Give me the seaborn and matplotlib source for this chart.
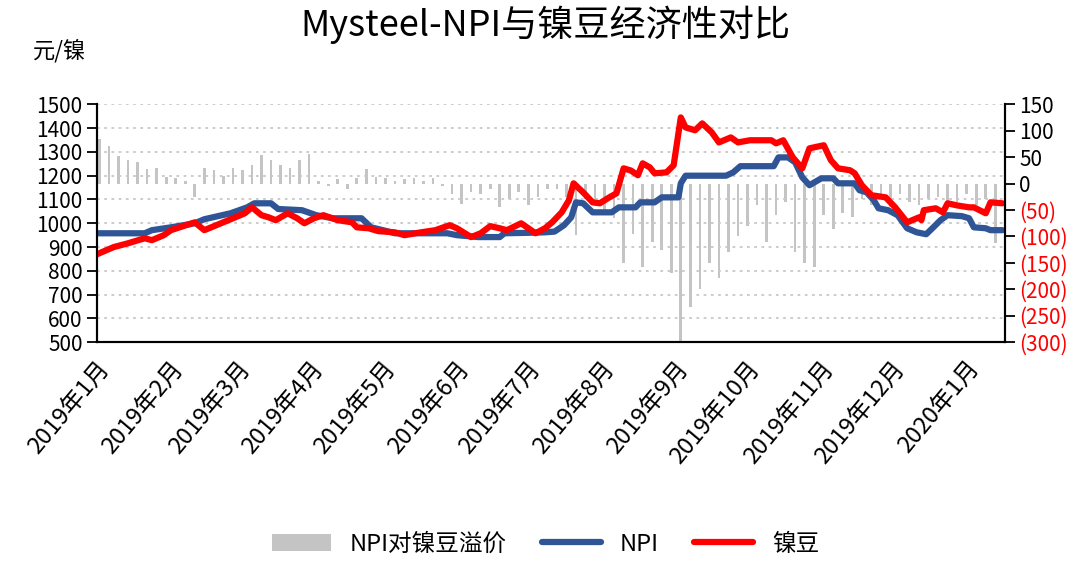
import numpy as np
import pandas as pd
import seaborn as sns
import matplotlib.pyplot as plt
import matplotlib.dates as mdates
from matplotlib.patches import Patch
from matplotlib.lines import Line2D

sns.set_style("white")
plt.rcParams['font.family'] = ['Noto Sans CJK SC', 'DejaVu Sans']
plt.rcParams['axes.unicode_minus'] = False
plt.rcParams['text.color'] = 'black'
plt.rcParams['xtick.color'] = 'black'
plt.rcParams['ytick.color'] = 'black'

# 镍豆 price (元/镍)
nickel_dates = ['2019-01-01', '2019-01-08', '2019-01-14', '2019-01-21', '2019-01-24', '2019-01-29',
                '2019-02-01', '2019-02-11', '2019-02-15', '2019-02-22', '2019-02-28', '2019-03-04',
                '2019-03-07', '2019-03-11', '2019-03-14', '2019-03-17', '2019-03-22', '2019-03-26',
                '2019-03-29', '2019-04-02', '2019-04-06', '2019-04-12', '2019-04-18', '2019-04-20',
                '2019-04-25', '2019-04-29', '2019-05-06', '2019-05-10', '2019-05-17', '2019-05-23',
                '2019-05-29', '2019-06-01', '2019-06-07', '2019-06-11', '2019-06-15', '2019-06-19',
                '2019-06-22', '2019-06-28', '2019-07-04', '2019-07-08', '2019-07-11', '2019-07-15',
                '2019-07-18', '2019-07-20', '2019-07-24', '2019-07-28', '2019-07-31', '2019-08-04',
                '2019-08-07', '2019-08-10', '2019-08-13', '2019-08-16', '2019-08-18', '2019-08-21',
                '2019-08-23', '2019-08-28', '2019-08-31', '2019-09-03', '2019-09-05', '2019-09-09',
                '2019-09-12', '2019-09-16', '2019-09-19', '2019-09-24', '2019-09-27', '2019-10-02',
                '2019-10-11', '2019-10-13', '2019-10-16', '2019-10-20', '2019-10-24', '2019-10-27',
                '2019-11-02', '2019-11-05', '2019-11-08', '2019-11-13', '2019-11-15', '2019-11-18',
                '2019-11-22', '2019-11-28', '2019-12-02', '2019-12-07', '2019-12-12', '2019-12-13',
                '2019-12-14', '2019-12-19', '2019-12-22', '2019-12-24', '2019-12-28', '2020-01-02',
                '2020-01-04', '2020-01-09', '2020-01-11', '2020-01-16']
nickel_vals = [870, 900, 916, 937, 929, 950,
               971, 1004, 971, 1000, 1025, 1042,
               1067, 1034, 1025, 1013, 1042, 1021,
               1000, 1021, 1034, 1013, 1004, 983,
               979, 967, 962, 950, 962, 971,
               992, 979, 942, 958, 988, 979,
               971, 1000, 958, 979, 1004, 1046,
               1096, 1168, 1130, 1088, 1084, 1109,
               1126, 1231, 1222, 1202, 1252, 1235,
               1210, 1214, 1244, 1445, 1403, 1391,
               1420, 1382, 1340, 1361, 1340, 1349,
               1349, 1336, 1349, 1277, 1231, 1315,
               1328, 1265, 1231, 1223, 1210, 1160,
               1118, 1109, 1067, 1004, 1025, 1013,
               1055, 1063, 1046, 1084, 1075, 1067,
               1067, 1042, 1088, 1084]

# NPI price (元/镍)
npi_dates = ['2019-01-01', '2019-01-21', '2019-01-24', '2019-02-01', '2019-02-11', '2019-02-15',
             '2019-02-26', '2019-03-05', '2019-03-08', '2019-03-15', '2019-03-18', '2019-03-28',
             '2019-04-03', '2019-04-10', '2019-04-22', '2019-04-26', '2019-05-01', '2019-05-06',
             '2019-05-28', '2019-06-01', '2019-06-10', '2019-06-19', '2019-06-21', '2019-07-01',
             '2019-07-08', '2019-07-12', '2019-07-16', '2019-07-19', '2019-07-21', '2019-07-24',
             '2019-07-28', '2019-08-05', '2019-08-08', '2019-08-15', '2019-08-17', '2019-08-23',
             '2019-08-26', '2019-09-02', '2019-09-03', '2019-09-05', '2019-09-22', '2019-09-25',
             '2019-09-28', '2019-10-12', '2019-10-14', '2019-10-18', '2019-10-21', '2019-10-24',
             '2019-10-27', '2019-11-01', '2019-11-06', '2019-11-08', '2019-11-15', '2019-11-17',
             '2019-11-20', '2019-11-23', '2019-11-25', '2019-11-29', '2019-12-03', '2019-12-07',
             '2019-12-11', '2019-12-15', '2019-12-18', '2019-12-21', '2019-12-24', '2019-12-30',
             '2020-01-02', '2020-01-04', '2020-01-09', '2020-01-11', '2020-01-16']
npi_vals = [958, 958, 971, 983, 1000, 1017,
            1042, 1067, 1084, 1084, 1060, 1055,
            1034, 1021, 1021, 983, 971, 958,
            958, 950, 942, 942, 958, 960,
            962, 965, 992, 1025, 1088, 1084,
            1046, 1046, 1067, 1067, 1088, 1088,
            1109, 1109, 1168, 1200, 1200, 1214,
            1240, 1240, 1277, 1277, 1256, 1193,
            1160, 1189, 1189, 1168, 1168, 1139,
            1130, 1097, 1063, 1055, 1034, 979,
            962, 954, 983, 1013, 1034, 1030,
            1021, 983, 979, 971, 971]

# NPI对镍豆溢价 (right axis), one bar every 4 days from 2019-01-02
premium_start = '2019-01-02'
premium_vals = [85, 72, 52, 45, 40, 28, 30, 12,
                10, 5, -26, 30, 25, 15, 30, 25,
                35, 55, 45, 35, 30, 45, 57, 5,
                -5, 8, -10, 10, 28, 12, 10, 5,
                8, 10, 5, 10, -5, -20, -38, -15,
                -20, -10, -45, -30, -15, -40, -25, -10,
                -10, -25, -98, -30, -40, -55, -65, -150,
                -95, -158, -110, -125, -170, -300, -234, -200,
                -150, -178, -130, -100, -80, -40, -110, -60,
                -35, -130, -150, -158, -60, -85, -55, -64,
                -30, -40, -25, -45, -20, -35, -40, -30,
                -25, -45, -35, -20, -40, -30, -112, -140]

left_ticks = list(range(500, 1501, 100))
right_ticks = list(range(-300, 151, 50))

nickel = pd.DataFrame({'date': pd.to_datetime(nickel_dates), 'price': nickel_vals})
npi = pd.DataFrame({'date': pd.to_datetime(npi_dates), 'price': npi_vals})
premium = pd.DataFrame({'date': pd.date_range(premium_start, periods=len(premium_vals), freq='4D'),
                        'value': premium_vals})

blue = '#2F5597'
red = '#FF0000'
grey = '#C4C4C4'

fig = plt.figure(figsize=(10.91, 5.61), dpi=100)
ax = fig.add_axes([0.089, 0.390, 0.832, 0.424])
ax2 = ax.twinx()
ax2.set_zorder(ax.get_zorder() - 1)
ax.patch.set_visible(False)

ax2.bar(premium['date'], premium['value'], width=1.1, color=grey, linewidth=0)
ax2.set_ylim(-300, 150)
ax2.set_yticks(right_ticks)
ax2.set_yticklabels([f'({abs(v)})' if v < 0 else str(v) for v in right_ticks])
for lab, v in zip(ax2.get_yticklabels(), right_ticks):
    lab.set_color(red if v < 0 else 'black')

sns.lineplot(data=npi, x='date', y='price', ax=ax, color=blue, linewidth=4.5)
sns.lineplot(data=nickel, x='date', y='price', ax=ax, color=red, linewidth=4.5)

ax.set_ylim(500, 1500)
ax.set_yticks(left_ticks)
ax.set_xlim(pd.Timestamp('2019-01-01'), pd.Timestamp('2020-01-17'))
ax.xaxis.set_major_locator(mdates.MonthLocator())
ax.set_xticks(ax.get_xticks())
ax.set_xticklabels([f'{d.year}年{d.month}月' for d in
                    [mdates.num2date(t) for t in ax.get_xticks()]])
plt.setp(ax.get_xticklabels(), rotation=50, ha='right', rotation_mode='anchor')
ax.set_xlabel('')
ax.set_ylabel('')

ax.grid(axis='y', linestyle=(0, (1.5, 2.5)), color='#C8C8C8', linewidth=1.3)
ax.grid(axis='x', visible=False)

for a in (ax, ax2):
    a.spines['top'].set_visible(False)
    for s in ('left', 'bottom', 'right'):
        a.spines[s].set_color('black')
        a.spines[s].set_linewidth(1.5)
    a.tick_params(direction='out', length=7, width=1.3, labelsize=15)
ax.tick_params(axis='x', labelsize=17, pad=4)

fig.text(0.5, 0.955, 'Mysteel-NPI与镍豆经济性对比', ha='center', va='center', fontsize=26)
fig.text(0.03, 0.91, '元/镍', ha='left', va='center', fontsize=16)

handles = [Patch(facecolor=grey, edgecolor='none'),
           Line2D([0], [0], color=blue, linewidth=4.5),
           Line2D([0], [0], color=red, linewidth=4.5)]
fig.legend(handles, ['NPI对镍豆溢价', 'NPI', '镍豆'], loc='center', bbox_to_anchor=(0.5, 0.03),
           ncol=3, frameon=False, fontsize=17, handlelength=2.5, columnspacing=1.5)

fig.savefig('out.png', dpi=100)
